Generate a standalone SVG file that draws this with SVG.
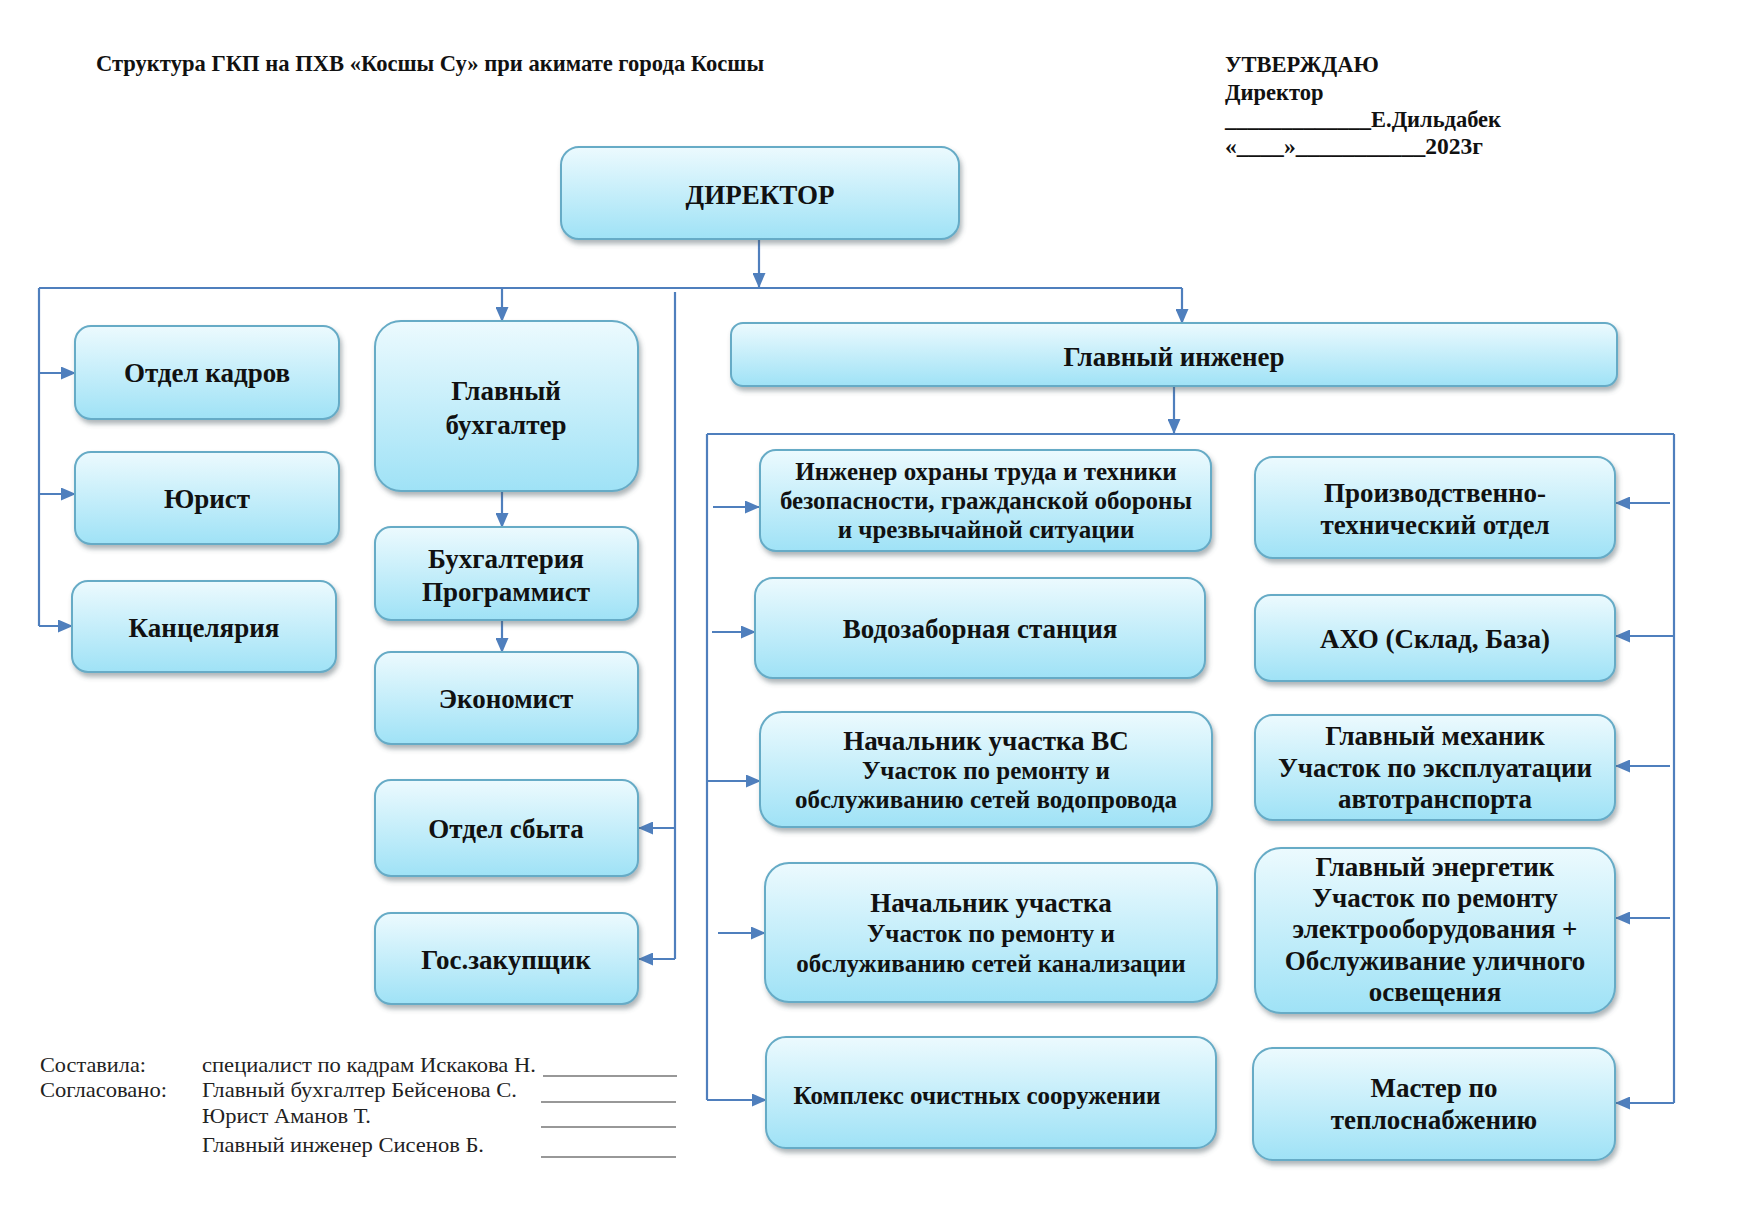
<svg xmlns="http://www.w3.org/2000/svg" width="1748" height="1210" viewBox="0 0 1748 1210">
<defs>
<linearGradient id="g" x1="0" y1="0" x2="0" y2="1">
<stop offset="0" stop-color="#ecfafe"/>
<stop offset="1" stop-color="#9fe2f6"/>
</linearGradient>
<filter id="sh" x="-10%" y="-10%" width="120%" height="130%">
<feDropShadow dx="2" dy="4" stdDeviation="2.5" flood-color="#4a5a60" flood-opacity="0.45"/>
</filter>
<marker id="ah" markerUnits="userSpaceOnUse" markerWidth="15" markerHeight="13" refX="14" refY="6.5" orient="auto">
<path d="M0,0 L15,6.5 L0,13 Z" fill="#4f7fbd"/>
</marker>
</defs>
<style>
.b{fill:url(#g);stroke:#66abc6;stroke-width:2;filter:url(#sh)}
.t{font-family:"Liberation Serif","Times New Roman",serif;font-weight:bold;font-size:27px;fill:#111;text-anchor:middle}
.m{font-size:25px}
.c{fill:none;stroke:#4f7fbd;stroke-width:2.2}
.a{fill:none;stroke:#4f7fbd;stroke-width:2.2;marker-end:url(#ah)}
.h{font-family:"Liberation Serif","Times New Roman",serif;font-weight:bold;font-size:22.5px;fill:#111}
.s{font-family:"Liberation Serif","Times New Roman",serif;font-size:21px;fill:#222}
</style>
<rect width="1748" height="1210" fill="#fff"/>

<g id="header">
<text class="h" x="96" y="71" textLength="668" lengthAdjust="spacingAndGlyphs">Структура ГКП на ПХВ «Косшы Су» при акимате города Косшы</text>
<text class="h" x="1225" y="72">УТВЕРЖДАЮ</text>
<text class="h" x="1225" y="100">Директор</text>
<text class="h" x="1225" y="127" textLength="276" lengthAdjust="spacingAndGlyphs">_____________Е.Дильдабек</text>
<text class="h" x="1225" y="154" textLength="258" lengthAdjust="spacingAndGlyphs">«____»___________2023г</text>
</g>

<g id="connectors">
<path class="a" d="M759,239 V287"/>
<path class="c" d="M39,288 H1182"/>
<path class="c" d="M39,288 V626"/>
<path class="a" d="M39,373 H75"/>
<path class="a" d="M39,494 H75"/>
<path class="a" d="M39,626 H72"/>
<path class="a" d="M502,288 V321"/>
<path class="a" d="M1182,288 V323"/>
<path class="c" d="M675,292 V959"/>
<path class="a" d="M675,828 H639"/>
<path class="a" d="M675,959 H639"/>
<path class="a" d="M502,492 V527"/>
<path class="a" d="M502,620 V652"/>
<path class="a" d="M1174,386 V433"/>
<path class="c" d="M707,434 H1674"/>
<path class="c" d="M707,434 V1100"/>
<path class="a" d="M707,1100 H766"/>
<path class="c" d="M1674,434 V1103"/>
<path class="a" d="M1674,1103 H1616"/>
<path class="a" d="M713,507 H759"/>
<path class="a" d="M712,632 H755"/>
<path class="a" d="M708,781 H760"/>
<path class="a" d="M718,933 H765"/>
<path class="a" d="M1670,503 H1616"/>
<path class="a" d="M1674,636 H1616"/>
<path class="a" d="M1670,766 H1616"/>
<path class="a" d="M1670,918 H1616"/>
</g>

<g id="n-director"><rect class="b" x="561" y="147" width="398" height="92" rx="18"/><text class="t" x="760" y="204">ДИРЕКТОР</text></g>
<g id="n-kadry"><rect class="b" x="75" y="326" width="264" height="93" rx="16"/><text class="t" x="207" y="382">Отдел кадров</text></g>
<g id="n-jurist"><rect class="b" x="75" y="452" width="264" height="92" rx="16"/><text class="t" x="207" y="508">Юрист</text></g>
<g id="n-kanc"><rect class="b" x="72" y="581" width="264" height="91" rx="16"/><text class="t" x="204" y="637">Канцелярия</text></g>
<g id="n-glbuh"><rect class="b" x="375" y="321" width="263" height="170" rx="26"/><text class="t" x="506" y="400">Главный</text><text class="t" x="506" y="434">бухгалтер</text></g>
<g id="n-buh"><rect class="b" x="375" y="527" width="263" height="93" rx="16"/><text class="t" x="506" y="568">Бухгалтерия</text><text class="t" x="506" y="601">Программист</text></g>
<g id="n-econ"><rect class="b" x="375" y="652" width="263" height="92" rx="16"/><text class="t" x="506" y="708">Экономист</text></g>
<g id="n-sbyt"><rect class="b" x="375" y="780" width="263" height="96" rx="16"/><text class="t" x="506" y="838">Отдел сбыта</text></g>
<g id="n-goszak"><rect class="b" x="375" y="913" width="263" height="91" rx="16"/><text class="t" x="506" y="969">Гос.закупщик</text></g>
<g id="n-glinzh"><rect class="b" x="731" y="323" width="886" height="63" rx="12"/><text class="t" x="1174" y="366">Главный инженер</text></g>
<g id="n-ohrana"><rect class="b" x="760" y="450" width="451" height="101" rx="16"/><text class="t m" x="986" y="480">Инженер охраны труда и техники</text><text class="t m" x="986" y="509">безопасности, гражданской обороны</text><text class="t m" x="986" y="538">и чрезвычайной ситуации</text></g>
<g id="n-vodozabor"><rect class="b" x="755" y="578" width="450" height="100" rx="18"/><text class="t" x="980" y="638">Водозаборная станция</text></g>
<g id="n-vs"><rect class="b" x="760" y="712" width="452" height="115" rx="22"/><text class="t" x="986" y="750">Начальник участка ВС</text><text class="t m" x="986" y="779">Участок по ремонту и</text><text class="t m" x="986" y="808">обслуживанию сетей водопровода</text></g>
<g id="n-kanal"><rect class="b" x="765" y="863" width="452" height="139" rx="24"/><text class="t" x="991" y="912">Начальник участка</text><text class="t m" x="991" y="942">Участок по ремонту и</text><text class="t m" x="991" y="972">обслуживанию сетей канализации</text></g>
<g id="n-ochist"><rect class="b" x="766" y="1037" width="450" height="111" rx="20"/><text class="t m" x="977" y="1104">Комплекс очистных сооружении</text></g>
<g id="n-pto"><rect class="b" x="1255" y="457" width="360" height="101" rx="18"/><text class="t" x="1435" y="502">Производственно-</text><text class="t" x="1435" y="534">технический отдел</text></g>
<g id="n-aho"><rect class="b" x="1255" y="595" width="360" height="86" rx="16"/><text class="t" x="1435" y="648">АХО (Склад, База)</text></g>
<g id="n-meh"><rect class="b" x="1255" y="715" width="360" height="105" rx="18"/><text class="t" x="1435" y="745">Главный механик</text><text class="t" x="1435" y="777">Участок по эксплуатации</text><text class="t" x="1435" y="808">автотранспорта</text></g>
<g id="n-energ"><rect class="b" x="1255" y="848" width="360" height="165" rx="26"/><text class="t" x="1435" y="876">Главный энергетик</text><text class="t" x="1435" y="907">Участок по ремонту</text><text class="t" x="1435" y="938">электрооборудования +</text><text class="t" x="1435" y="970">Обслуживание уличного</text><text class="t" x="1435" y="1001">освещения</text></g>
<g id="n-master"><rect class="b" x="1253" y="1048" width="362" height="112" rx="20"/><text class="t" x="1434" y="1097">Мастер по</text><text class="t" x="1434" y="1129">теплоснабжению</text></g>

<g id="signatures">
<text class="s" x="40" y="1072" textLength="106" lengthAdjust="spacingAndGlyphs">Составила:</text>
<text class="s" x="40" y="1097" textLength="127" lengthAdjust="spacingAndGlyphs">Согласовано:</text>
<text class="s" x="202" y="1072" textLength="334" lengthAdjust="spacingAndGlyphs">специалист по кадрам Искакова Н.</text>
<text class="s" x="202" y="1097" textLength="315" lengthAdjust="spacingAndGlyphs">Главный бухгалтер Бейсенова С.</text>
<text class="s" x="202" y="1123" textLength="169" lengthAdjust="spacingAndGlyphs">Юрист Аманов Т.</text>
<text class="s" x="202" y="1152" textLength="282" lengthAdjust="spacingAndGlyphs">Главный инженер Сисенов Б.</text>
<path d="M543,1076 H677 M541,1102 H676 M541,1127 H676 M541,1157 H676" stroke="#333" stroke-width="1.2" fill="none"/>
</g>
</svg>
